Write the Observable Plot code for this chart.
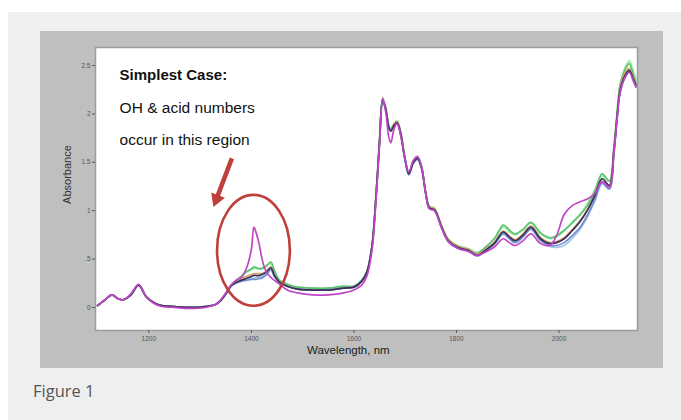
<!DOCTYPE html>
<html><head><meta charset="utf-8">
<script src="https://cdn.jsdelivr.net/npm/d3@7"></script>
<script src="https://cdn.jsdelivr.net/npm/@observablehq/plot@0.6"></script>
<style>
html,body{margin:0;padding:0;background:#fff;width:681px;height:420px;overflow:hidden;}
#outer{position:absolute;left:8px;top:12px;width:673px;height:420px;background:#efefef;}
#panel{position:absolute;left:32px;top:19px;width:623px;height:337px;background:#bfbfbf;}
#panel svg{display:block;background:transparent;}
#cap{position:absolute;left:25px;top:371px;font-family:"Open Sans";font-size:16.5px;color:#555;line-height:1;}
</style></head>
<body>
<div id="outer"><div id="panel"></div><div id="cap">Figure 1</div></div>
<script>
// Wavelength grid (nm)
const wavelengths = [1100,1115,1128,1140,1150,1165,1180,1195,1210,1225,1250,1280,1310,1330,1340,1350,
1360,1370,1380,1390,1400,1405,1410,1415,1420,1425,1430,1438,1445,1455,1470,1490,1520,1550,1580,1600,1615,1625,1635,1643,
1650,1656,1662,1668,1672,1678,1684,1691,1699,1707,1716,1724,1732,1740,1747,1757,1771,1784,1803,1823,1840,1856,1875,
1891,1903,1914,1930,1945,1964,1982,1995,2010,2025,2040,2055,2070,2084,2098,2107,2113,2119,2129,2137,2145,2150];

const sampleA = [0.02,0.08,0.13,0.09,0.08,0.13,0.23,0.11,0.05,0.02,0.01,0.00,0.01,0.03,0.07,0.14,
0.23,0.27,0.31,0.36,0.39,0.40,0.40,0.40,0.41,0.42,0.44,0.45,0.37,0.28,0.24,0.21,0.20,0.20,0.21,0.22,0.28,0.37,0.63,1.16,
1.74,2.17,2.07,1.88,1.85,1.90,1.93,1.82,1.57,1.40,1.52,1.56,1.46,1.20,1.05,1.03,0.85,0.71,0.64,0.61,0.57,0.62,0.71,
0.83,0.78,0.75,0.80,0.87,0.76,0.71,0.73,0.79,0.88,0.96,1.07,1.22,1.36,1.30,1.64,1.99,2.30,2.48,2.55,2.44,2.36];

const sampleB = [0.02,0.08,0.13,0.09,0.08,0.13,0.23,0.11,0.05,0.02,0.01,0.00,0.01,0.03,0.07,0.14,
0.22,0.26,0.28,0.29,0.30,0.30,0.31,0.31,0.32,0.33,0.35,0.40,0.32,0.26,0.22,0.19,0.18,0.18,0.20,0.21,0.27,0.36,0.62,1.14,
1.72,2.14,2.05,1.87,1.84,1.89,1.91,1.80,1.55,1.38,1.50,1.54,1.44,1.18,1.03,1.01,0.83,0.69,0.62,0.59,0.54,0.59,0.67,
0.77,0.72,0.68,0.74,0.82,0.70,0.63,0.62,0.64,0.71,0.80,0.93,1.10,1.28,1.22,1.59,1.93,2.22,2.38,2.44,2.35,2.29];

const sampleC = [0.02,0.08,0.13,0.09,0.08,0.13,0.23,0.11,0.05,0.02,0.01,0.00,0.01,0.03,0.07,0.14,
0.23,0.28,0.32,0.37,0.40,0.42,0.41,0.40,0.40,0.41,0.43,0.47,0.38,0.28,0.24,0.21,0.20,0.20,0.22,0.22,0.28,0.37,0.63,1.15,
1.73,2.15,2.06,1.87,1.84,1.89,1.92,1.81,1.56,1.39,1.51,1.55,1.45,1.19,1.04,1.02,0.84,0.70,0.63,0.60,0.56,0.62,0.72,
0.85,0.80,0.76,0.81,0.88,0.77,0.72,0.74,0.80,0.87,0.95,1.05,1.20,1.38,1.31,1.66,2.00,2.30,2.46,2.52,2.40,2.33];

const sampleD = [0.02,0.08,0.13,0.09,0.08,0.13,0.23,0.11,0.05,0.02,0.01,0.00,0.01,0.03,0.07,0.14,
0.22,0.27,0.30,0.32,0.34,0.35,0.35,0.35,0.35,0.36,0.38,0.42,0.33,0.26,0.22,0.19,0.18,0.18,0.20,0.21,0.27,0.36,0.62,1.14,
1.72,2.15,2.06,1.87,1.83,1.89,1.92,1.81,1.56,1.39,1.51,1.55,1.45,1.19,1.04,1.02,0.84,0.70,0.63,0.60,0.55,0.60,0.68,
0.79,0.74,0.70,0.76,0.84,0.72,0.67,0.68,0.72,0.80,0.89,1.01,1.16,1.33,1.26,1.62,1.97,2.26,2.42,2.47,2.37,2.31];

const sampleE = [0.02,0.08,0.13,0.09,0.08,0.13,0.23,0.11,0.05,0.02,0.01,0.00,0.01,0.03,0.07,0.14,
0.22,0.25,0.27,0.28,0.29,0.29,0.29,0.30,0.30,0.32,0.34,0.39,0.32,0.26,0.22,0.19,0.18,0.18,0.20,0.21,0.27,0.36,0.62,1.14,
1.72,2.13,2.04,1.86,1.83,1.88,1.90,1.79,1.54,1.37,1.49,1.53,1.43,1.17,1.02,1.00,0.82,0.68,0.61,0.58,0.53,0.58,0.66,
0.76,0.71,0.67,0.73,0.81,0.69,0.64,0.64,0.67,0.74,0.82,0.95,1.12,1.29,1.23,1.60,1.94,2.22,2.38,2.43,2.34,2.28];

const sampleF = [0.02,0.08,0.13,0.09,0.08,0.13,0.23,0.11,0.05,0.02,0.01,0.00,0.01,0.03,0.07,0.14,
0.22,0.26,0.28,0.30,0.32,0.33,0.33,0.33,0.34,0.35,0.37,0.41,0.33,0.26,0.22,0.19,0.18,0.18,0.20,0.21,0.27,0.36,0.62,1.14,
1.72,2.14,2.05,1.86,1.82,1.88,1.91,1.80,1.55,1.38,1.50,1.54,1.44,1.18,1.03,1.01,0.83,0.69,0.62,0.59,0.54,0.59,0.67,
0.78,0.73,0.69,0.75,0.83,0.71,0.66,0.67,0.71,0.79,0.88,1.00,1.16,1.33,1.26,1.62,1.96,2.24,2.40,2.45,2.36,2.30];

const sampleG = [0.02,0.08,0.13,0.09,0.08,0.14,0.24,0.11,0.04,0.01,0.00,-0.01,0.00,0.03,0.08,0.15,
0.23,0.28,0.31,0.40,0.60,0.83,0.76,0.66,0.52,0.42,0.36,0.31,0.28,0.24,0.18,0.15,0.13,0.13,0.15,0.18,0.23,0.32,0.58,1.10,
1.70,2.16,2.02,1.76,1.70,1.84,1.90,1.78,1.55,1.40,1.52,1.56,1.45,1.18,1.02,1.00,0.82,0.68,0.61,0.58,0.54,0.57,0.63,
0.71,0.67,0.64,0.69,0.76,0.66,0.64,0.74,0.96,1.05,1.09,1.12,1.18,1.30,1.24,1.60,1.94,2.22,2.38,2.43,2.34,2.28];

const seriesNames = ["Sample A","Sample B","Sample C","Sample D","Sample E","Sample F","Sample G"];
const seriesValues = [sampleA, sampleB, sampleC, sampleD, sampleE, sampleF, sampleG];
const seriesColors = ["#a6e8a6","#a9c5ea","#5cc470","#d9a36a","#6f8fd0","#3d2f5c","#c146c6"];

const xTicks = [1200,1400,1600,1800,2000];
const xTickLabels = ["1200","1400","1600","1800","2000"];
const yTicks = [0,0.5,1,1.5,2,2.5];
const yTickLabels = ["0",".5","1","1.5","2","2.5"];

const noteTitle = "Simplest Case:";
const noteLines = ["OH & acid numbers","occur in this region"];
const noteX = 1143;
const noteTitleY = 2.40;
const noteLinesY = [2.06, 1.725];
const arrowFrom = [1362, 1.54];
const arrowShaftTo = [1334, 1.15];
const arrowHeadAt = [1332, 1.12];
const arrowHeadAngle = 201;
const ellipseCenter = [1405, 0.585];
const ellipseRadii = [71, 0.573];
const xLabel = "Wavelength, nm", xLabelAt = 1589;
const yLabel = "Absorbance", yLabelAt = 1.07;
const red = "#bf3f3a";

const rows = [];
seriesNames.forEach((s, k) => {
  wavelengths.forEach((w, i) => {
    const a = seriesValues[k][i];
    if (a !== undefined) rows.push({s, w, a});
  });
});

const plot = Plot.plot({
  width: 623, height: 337,
  marginLeft: 55, marginRight: 26, marginTop: 16, marginBottom: 38,
  style: {background: "transparent", fontFamily: "Liberation Sans, Arial, sans-serif"},
  x: {domain: [1096, 2153]},
  y: {domain: [-0.238, 2.686]},
  color: {domain: seriesNames, range: seriesColors},
  marks: [
    Plot.frame({fill: "white", stroke: "#9c9c9c", strokeWidth: 1.5}),
    Plot.axisX({ticks: xTicks, tickFormat: (d, i) => xTickLabels[i], tickSize: 3, tickPadding: 3, fontSize: 6.5, color: "#555", label: null}),
    Plot.axisY({ticks: yTicks, tickFormat: (d, i) => yTickLabels[i], tickSize: 3, tickPadding: 2, fontSize: 6.5, color: "#555", label: null}),
    Plot.line(rows, {x: "w", y: "a", z: "s", stroke: "s", strokeWidth: 1.7, curve: "catmull-rom"}),
    Plot.text([noteTitle], {x: [noteX], y: [noteTitleY], textAnchor: "start", fontSize: 15, fontWeight: "bold", fill: "#111"}),
    Plot.text(noteLines, {x: noteLines.map(() => noteX), y: noteLinesY, textAnchor: "start", fontSize: 15.5, fill: "#111"}),
    Plot.link([0], {x1: [arrowFrom[0]], y1: [arrowFrom[1]], x2: [arrowShaftTo[0]], y2: [arrowShaftTo[1]], stroke: red, strokeWidth: 4.5}),
    Plot.dot([0], {x: [arrowHeadAt[0]], y: [arrowHeadAt[1]], symbol: "triangle2", r: 7, rotate: arrowHeadAngle, fill: red, stroke: "none"}),
    Plot.text([xLabel], {x: [xLabelAt], frameAnchor: "bottom", dy: 23, fontSize: 11.5, fill: "#222"}),
    Plot.text([yLabel], {y: [yLabelAt], frameAnchor: "left", dx: -28, rotate: -90, fontSize: 11, fill: "#333"})
  ]
});

// red ellipse annotation placed through the plot's own scales
const sx = plot.scale("x"), sy = plot.scale("y");
const cx = sx.apply(ellipseCenter[0]), cy = sy.apply(ellipseCenter[1]);
const rx = Math.abs(sx.apply(ellipseCenter[0] + ellipseRadii[0]) - cx);
const ry = Math.abs(sy.apply(ellipseCenter[1] + ellipseRadii[1]) - cy);
d3.select(plot).append("ellipse")
  .attr("cx", cx).attr("cy", cy).attr("rx", rx).attr("ry", ry)
  .attr("fill", "none").attr("stroke", red).attr("stroke-width", 2.6);

document.getElementById("panel").appendChild(plot);
</script>
</body></html>
